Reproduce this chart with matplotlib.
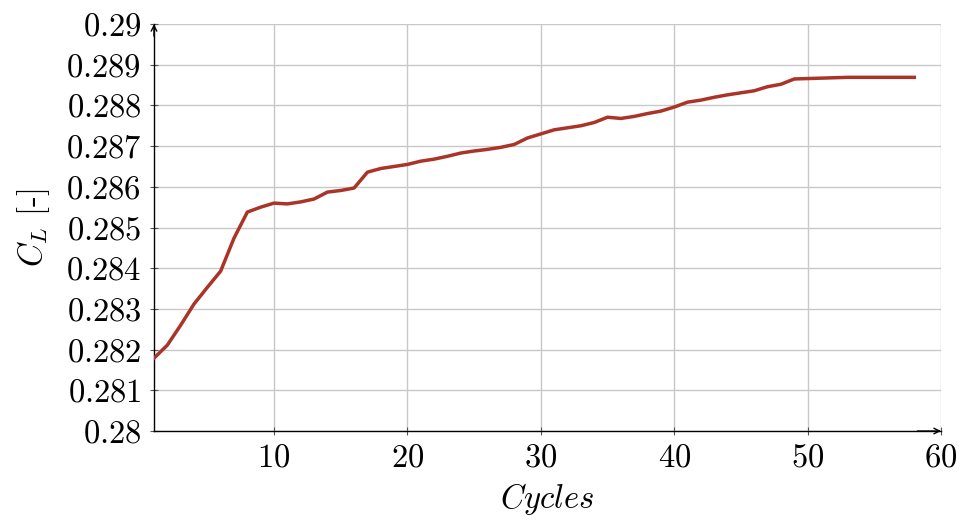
import matplotlib
matplotlib.use("Agg")
import matplotlib.pyplot as plt
from matplotlib.ticker import FixedLocator

plt.rcParams['mathtext.fontset'] = 'cm'
plt.rcParams['font.family'] = ['cmr10', 'DejaVu Serif']
plt.rcParams['axes.formatter.use_mathtext'] = True

cycles = list(range(1, 59))
cl = [0.28179, 0.28211, 0.28260, 0.28312, 0.28353, 0.28393, 0.28474, 0.28538,
      0.28550, 0.28560, 0.28558, 0.28563, 0.28570, 0.28587, 0.28591, 0.28597,
      0.28636, 0.28645, 0.28650, 0.28655, 0.28663, 0.28668, 0.28675, 0.28683,
      0.28688, 0.28692, 0.28697, 0.28704, 0.28720, 0.28730, 0.28740, 0.28745,
      0.28750, 0.28758, 0.28771, 0.28768, 0.28773, 0.28780, 0.28786, 0.28796,
      0.28808, 0.28813, 0.28820, 0.28826, 0.28831, 0.28836, 0.28846, 0.28852,
      0.28865, 0.28866, 0.28867, 0.28868, 0.28869, 0.28869, 0.28869, 0.28869,
      0.28869, 0.28869]

xticks = [10, 20, 30, 40, 50, 60]
yticks = [0.28, 0.281, 0.282, 0.283, 0.284, 0.285, 0.286, 0.287, 0.288, 0.289, 0.29]
ytick_labels = ['0.28', '0.281', '0.282', '0.283', '0.284', '0.285', '0.286',
                '0.287', '0.288', '0.289', '0.29']

fig = plt.figure(figsize=(9.6, 5.21), dpi=100)
ax = fig.add_axes([0.1604, 0.1727, 0.8198, 0.7812])

ax.plot(cycles, cl, color='#ab3428', lw=2.5, zorder=3)

ax.set_xlim(1, 60)
ax.set_ylim(0.28, 0.29)
ax.xaxis.set_major_locator(FixedLocator(xticks))
ax.set_xticklabels([f'${t}$' for t in xticks])
ax.yaxis.set_major_locator(FixedLocator(yticks))
ax.set_yticklabels([f'${t}$' for t in ytick_labels])

ax.grid(True, color='#c8c8c8', lw=1.0)
ax.set_axisbelow(True)
for s in ['top', 'right']:
    ax.spines[s].set_visible(False)
for s in ['left', 'bottom']:
    ax.spines[s].set_color('black')
    ax.spines[s].set_linewidth(1.0)

ax.tick_params(axis='both', direction='inout', length=6, width=0.8,
               labelsize=23.5, pad=6, color='#555555')

# axis arrows
ax.annotate('', xy=(0, 1.0), xytext=(0, 0.97), xycoords='axes fraction',
            arrowprops=dict(arrowstyle='->', lw=1.0, color='black',
                            shrinkA=0, shrinkB=0))
ax.annotate('', xy=(1.0, 0), xytext=(0.97, 0), xycoords='axes fraction',
            arrowprops=dict(arrowstyle='->', lw=1.0, color='black',
                            shrinkA=0, shrinkB=0))

ax.set_xlabel('$Cycles$', fontsize=23.5, labelpad=6)
ax.set_ylabel('$C_L$ [-]', fontsize=23.5, labelpad=10)

fig.savefig('out.png', dpi=100)
